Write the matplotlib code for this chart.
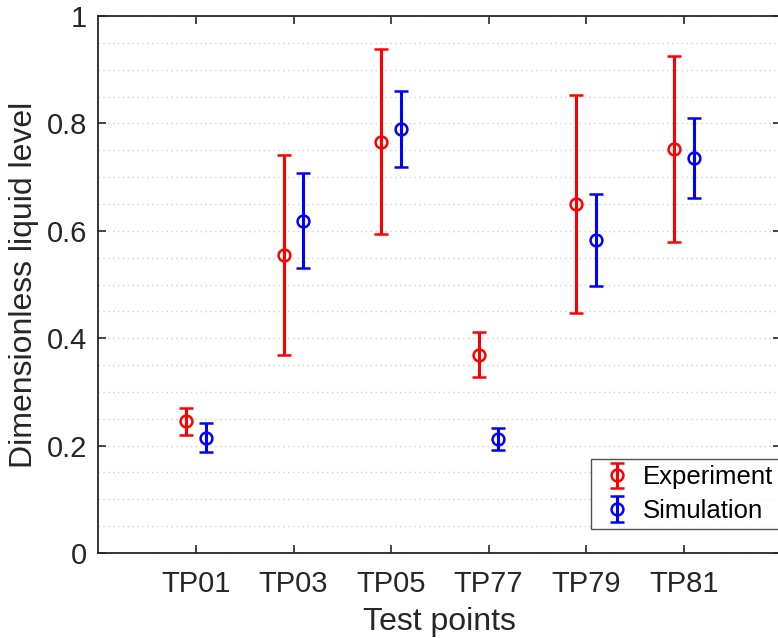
import numpy as np
import matplotlib.pyplot as plt
from matplotlib.ticker import MultipleLocator, FuncFormatter

plt.rcParams['font.family'] = ['Liberation Sans', 'DejaVu Sans']

points = ['TP01', 'TP03', 'TP05', 'TP77', 'TP79', 'TP81']
exp_mean = [0.245, 0.555, 0.766, 0.369, 0.650, 0.752]
exp_err = [0.025, 0.187, 0.172, 0.042, 0.203, 0.173]
sim_mean = [0.215, 0.619, 0.789, 0.212, 0.583, 0.736]
sim_err = [0.027, 0.089, 0.071, 0.021, 0.085, 0.075]

x = np.arange(1, len(points) + 1)
dark = '#262626'

fig = plt.figure(figsize=(7.78, 6.38), dpi=100)
ax = fig.add_axes([0.1264, 0.1332, 0.878, 0.8417])

ax.errorbar(x - 0.1, exp_mean, yerr=exp_err, fmt='o', color='red', ecolor='red',
            mfc='none', mec='red', ms=8.5, mew=1.8, elinewidth=2.2, capsize=5, capthick=2.2,
            label='Experiment')
ax.errorbar(x + 0.1, sim_mean, yerr=sim_err, fmt='o', color='blue', ecolor='blue',
            mfc='none', mec='blue', ms=8.5, mew=1.8, elinewidth=2.2, capsize=5, capthick=2.2,
            label='Simulation')

ax.set_xlim(0, 7)
ax.set_ylim(0, 1)
ax.set_xticks(x)
ax.set_xticklabels(points)
ax.yaxis.set_major_locator(MultipleLocator(0.2))
ax.yaxis.set_minor_locator(MultipleLocator(0.05))
ax.yaxis.set_major_formatter(FuncFormatter(lambda v, p: f'{v:.1f}'.rstrip('0').rstrip('.') if v else '0'))

ax.grid(True, axis='y', which='both', linestyle=(0, (1, 2.5)), color='#d0d0d0', linewidth=1)
ax.set_axisbelow(True)

ax.tick_params(axis='both', which='major', direction='in', length=6, width=1.2,
               colors=dark, labelsize=21, top=True, right=True, pad=8)
ax.tick_params(axis='x', which='major', pad=12)
ax.tick_params(axis='y', which='minor', length=0)
for sp in ax.spines.values():
    sp.set_color(dark)
    sp.set_linewidth(1.3)

ax.set_xlabel('Test points', fontsize=23, color=dark, labelpad=7)
ax.set_ylabel('Dimensionless liquid level', fontsize=23, color=dark, labelpad=6)

leg = ax.legend(loc='lower right', fontsize=18.5, frameon=True, fancybox=False,
                edgecolor=dark, handlelength=1.5, handletextpad=0.27,
                borderpad=0.24, labelspacing=0.36, borderaxespad=0,
                bbox_to_anchor=(0.997, 0.045))
leg.get_frame().set_linewidth(1.0)

fig.savefig('out.png', dpi=100)
